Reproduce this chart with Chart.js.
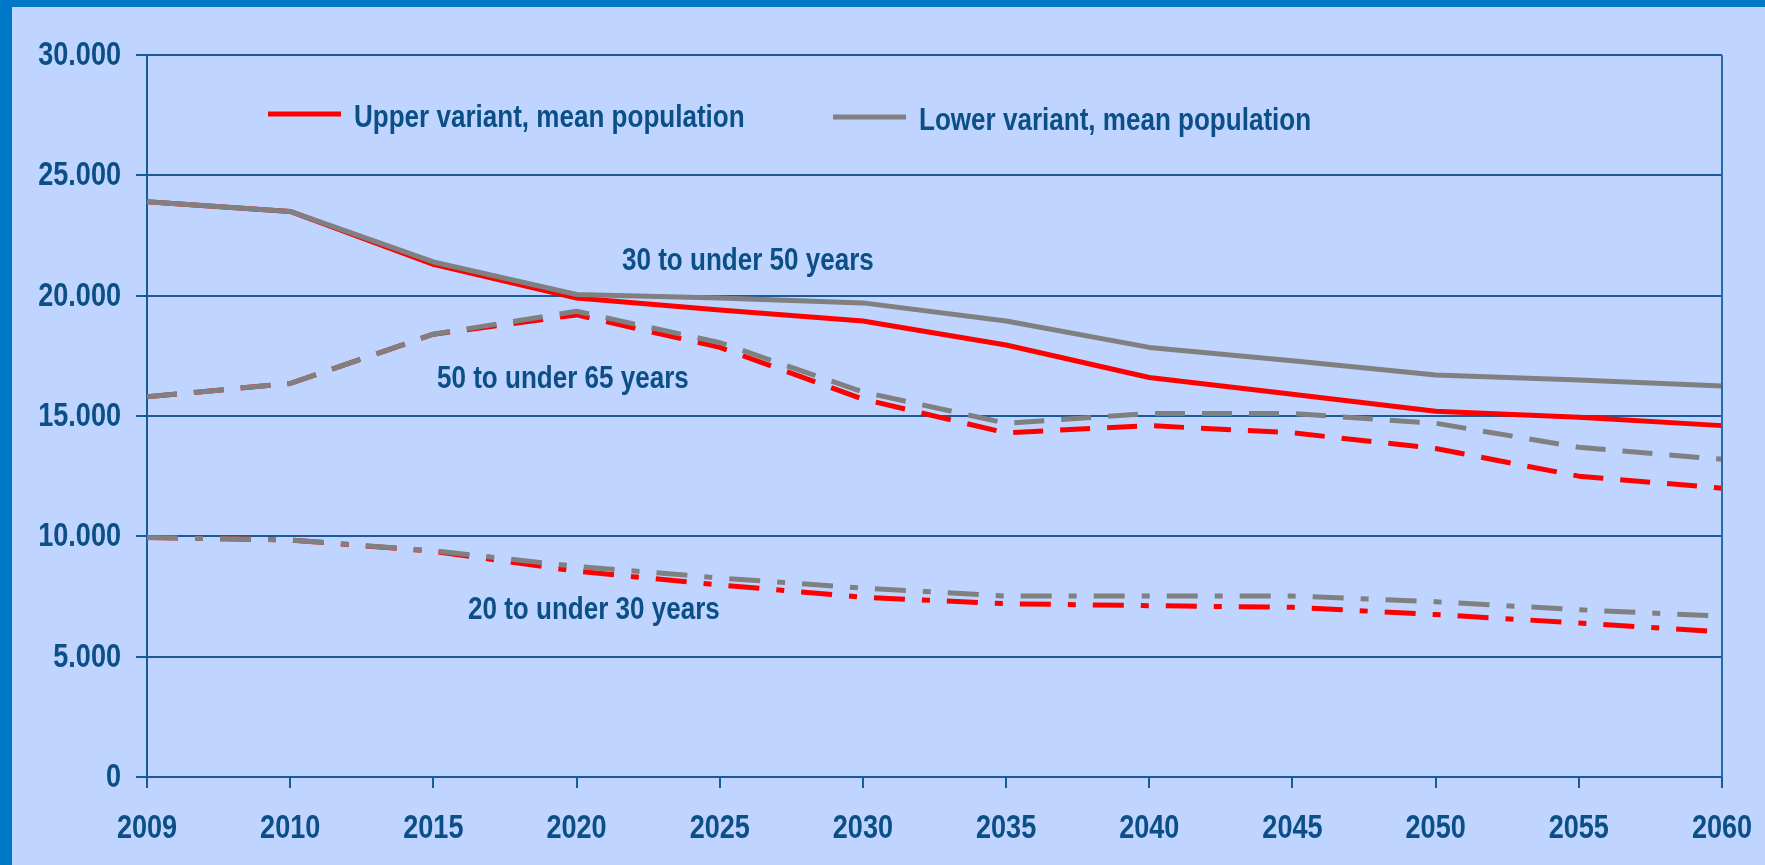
<!DOCTYPE html>
<html>
<head>
<meta charset="utf-8">
<script src="https://cdn.jsdelivr.net/npm/chart.js@4.4.1/dist/chart.umd.min.js"></script>
<style>
    html, body { margin: 0; padding: 0; background: #0078c8; width: 1765px; height: 865px; overflow: hidden; }
    #wrap { position: absolute; left: 12px; top: 7px; width: 1753px; height: 858px; background: #bfd4fe; }
</style>
</head>
<body>
<div id="wrap"><canvas id="popChart"></canvas></div>
<script>
// Years on the x axis
const years = ['2009', '2010', '2015', '2020', '2025', '2030', '2035', '2040', '2045', '2050', '2055', '2060'];

// 30 to under 50 years
const upper30to50 = [23900, 23500, 21300, 19900, 19400, 18950, 17950, 16600, 15900, 15200, 14950, 14600];
const lower30to50 = [23900, 23500, 21400, 20050, 19900, 19700, 18950, 17850, 17300, 16700, 16500, 16250];

// 50 to under 65 years
const upper50to65 = [15800, 16350, 18400, 19200, 17850, 15700, 14300, 14600, 14300, 13650, 12500, 12000];
const lower50to65 = [15800, 16350, 18400, 19350, 18050, 16000, 14700, 15100, 15100, 14700, 13700, 13200];

// 20 to under 30 years
const upper20to30 = [9950, 9850, 9380, 8550, 7980, 7470, 7200, 7120, 7050, 6750, 6400, 6030];
const lower20to30 = [9950, 9850, 9400, 8750, 8270, 7850, 7520, 7520, 7520, 7280, 6950, 6680];

const yTicks = [0, 5000, 10000, 15000, 20000, 25000, 30000];

const red = '#ff0000';
const grey = '#808080';
const navy = '#0b4f86';
const gridBlue = '#1a5a96';
// no Arial Narrow here, so Liberation Sans Bold is squeezed horizontally
const fontFamily = "'Liberation Sans', Arial, sans-serif";

const solid = [];
const dashed = [30, 17];
const dashDot = [31, 17, 8, 17];

function line(label, data, color, dash, order) {
    return {
        label: label,
        data: data,
        borderColor: color,
        backgroundColor: color,
        borderWidth: 5,
        borderDash: dash,
        borderCapStyle: 'butt',
        borderJoinStyle: 'round',
        pointRadius: 0,
        tension: 0,
        fill: false,
        order: order
    };
}

function narrowText(ctx, text, x, y, align, size, squeeze) {
    ctx.save();
    ctx.translate(x, y);
    ctx.scale(squeeze, 1);
    ctx.font = 'bold ' + size + 'px ' + fontFamily;
    ctx.fillStyle = navy;
    ctx.textAlign = align;
    ctx.textBaseline = 'middle';
    ctx.fillText(text, 0, 0);
    ctx.restore();
}

// tick labels, legend and group labels (legend sits inside the plot area)
const textPlugin = {
    id: 'insideText',
    afterDraw(chart) {
        const ctx = chart.ctx;
        const area = chart.chartArea;
        const xs = chart.scales.x;
        const ys = chart.scales.y;
        ctx.save();

        // right frame line
        ctx.strokeStyle = '#2b6aa6';
        ctx.lineWidth = 2;
        ctx.beginPath();
        ctx.moveTo(area.right, area.top);
        ctx.lineTo(area.right, area.bottom);
        ctx.stroke();

        // axis labels
        yTicks.forEach(v => {
            narrowText(ctx, v.toLocaleString('de-DE'), area.left - 26, ys.getPixelForValue(v) + 1, 'right', 33, 0.82);
        });
        years.forEach((yr, i) => {
            narrowText(ctx, yr, xs.getPixelForValue(i), area.bottom + 52, 'center', 33, 0.82);
        });

        // legend
        const legend = [
            { text: 'Upper variant, mean population', color: red, x: area.left + 121, y: area.top + 59 },
            { text: 'Lower variant, mean population', color: grey, x: area.left + 686, y: area.top + 62 }
        ];
        legend.forEach(item => {
            ctx.strokeStyle = item.color;
            ctx.lineWidth = 5;
            ctx.beginPath();
            ctx.moveTo(item.x, item.y);
            ctx.lineTo(item.x + 73, item.y);
            ctx.stroke();
            narrowText(ctx, item.text, item.x + 86, item.y + 4, 'left', 31, 0.84);
        });

        // age group labels
        narrowText(ctx, '30 to under 50 years', area.left + 475, area.top + 206, 'left', 31, 0.84);
        narrowText(ctx, '50 to under 65 years', area.left + 290, area.top + 324, 'left', 31, 0.84);
        narrowText(ctx, '20 to under 30 years', area.left + 321, area.top + 555, 'left', 31, 0.84);

        ctx.restore();
    }
};

new Chart(document.getElementById('popChart'), {
    type: 'line',
    data: {
        labels: years,
        datasets: [
            line('Upper variant 30-50', upper30to50, red, solid, 1),
            line('Lower variant 30-50', lower30to50, grey, solid, 0),
            line('Upper variant 50-65', upper50to65, red, dashed, 1),
            line('Lower variant 50-65', lower50to65, grey, dashed, 0),
            line('Upper variant 20-30', upper20to30, red, dashDot, 1),
            line('Lower variant 20-30', lower20to30, grey, dashDot, 0)
        ]
    },
    options: {
        responsive: true,
        maintainAspectRatio: false,
        animation: false,
        layout: { padding: { left: 0, top: 48, right: 43, bottom: 0 } },
        plugins: {
            legend: { display: false },
            tooltip: { enabled: false }
        },
        scales: {
            x: {
                offset: false,
                grid: { display: true, drawOnChartArea: false, drawTicks: true, tickLength: 11, color: gridBlue, lineWidth: 2 },
                border: { display: true, color: gridBlue, width: 2 },
                ticks: { display: false, autoSkip: false, maxRotation: 0 },
                afterFit: s => { s.height = 88; }
            },
            y: {
                min: 0,
                max: 30000,
                afterBuildTicks: s => { s.ticks = yTicks.map(v => ({ value: v })); },
                grid: { color: gridBlue, lineWidth: 2, tickLength: 11, drawTicks: true },
                border: { display: true, color: gridBlue, width: 2 },
                ticks: { display: false },
                afterFit: s => { s.width = 135; }
            }
        }
    },
    plugins: [textPlugin]
});
</script>
</body>
</html>
